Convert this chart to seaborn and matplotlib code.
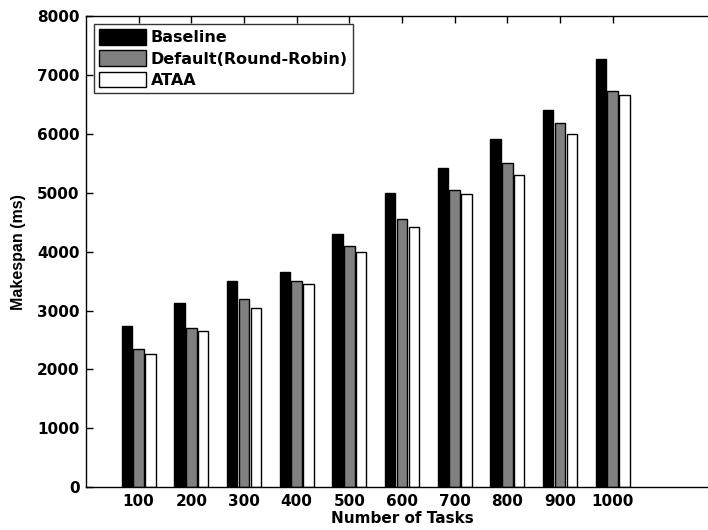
"""
Grouped bar chart of makespan vs number of tasks for three schedulers.
"""

import numpy as np
import pandas as pd
import matplotlib
matplotlib.use("Agg")
import matplotlib.pyplot as plt
import seaborn as sns

tasks = ["100", "200", "300", "400", "500", "600", "700", "800", "900", "1000"]
baseline = [2740, 3130, 3510, 3650, 4300, 5000, 5420, 5920, 6400, 7270]
default_rr = [2350, 2700, 3200, 3500, 4100, 4550, 5050, 5500, 6180, 6730]
ataa = [2270, 2660, 3040, 3450, 4000, 4410, 4980, 5300, 6000, 6660]
series = ["Baseline", "Default(Round-Robin)", "ATAA"]
colors = ["#000000", "#808080", "#ffffff"]


def main():
    df = pd.DataFrame({
        "tasks": tasks * 3,
        "makespan": baseline + default_rr + ataa,
        "scheduler": np.repeat(series, len(tasks)),
    })

    sns.set_style("ticks")
    # wide bold face for horizontal text, narrower one for the rotated label
    plt.rcParams["font.family"] = ["DejaVu Sans"]
    plt.rcParams["font.weight"] = "bold"
    plt.rcParams["text.color"] = "black"
    plt.rcParams["axes.labelcolor"] = "black"

    fig = plt.figure(figsize=(7.08, 5.30), dpi=100)
    ax = fig.add_axes([86 / 708, 1 - 487.3 / 530, 632 / 708, 471.3 / 530])

    sns.barplot(data=df, x="tasks", y="makespan", hue="scheduler",
                order=tasks, hue_order=series, palette=colors,
                width=0.672, gap=0.12, edgecolor="black", linewidth=1.0,
                saturation=1, ax=ax)

    ax.set_xlim(-1, 11)
    ax.set_ylim(0, 8000)
    ax.set_yticks(range(0, 8001, 1000))

    for side in ["top", "right", "left", "bottom"]:
        ax.spines[side].set_visible(True)
        ax.spines[side].set_linewidth(1.0)
        ax.spines[side].set_color("black")

    ax.tick_params(direction="in", length=5, width=1, top=True, right=True,
                   labelsize=11, colors="black")
    ax.tick_params(axis="y", pad=4.5)
    ax.tick_params(axis="x", pad=5)
    for lab in ax.get_xticklabels() + ax.get_yticklabels():
        lab.set_fontweight("bold")

    ax.set_xlabel("Number of Tasks", fontsize=11, fontweight="bold", labelpad=1,
                  color="black")
    ax.set_ylabel("Makespan (ms)", fontsize=11.5, fontweight="bold", labelpad=8,
                  family="Liberation Sans", color="black")

    handles, labels = ax.get_legend_handles_labels()
    leg = ax.legend(handles, labels, loc="upper left",
                    frameon=True, fancybox=False, edgecolor="black",
                    handlelength=2.95, handleheight=1.1, handletextpad=0.27,
                    labelspacing=0.32, borderpad=0.35, borderaxespad=0.48,
                    prop={"weight": "bold", "size": 11.5, "family": "DejaVu Sans"})
    leg.get_frame().set_linewidth(1.0)
    for t in leg.get_texts():
        t.set_color("black")

    fig.savefig("out.png", dpi=100)


if __name__ == "__main__":
    main()
